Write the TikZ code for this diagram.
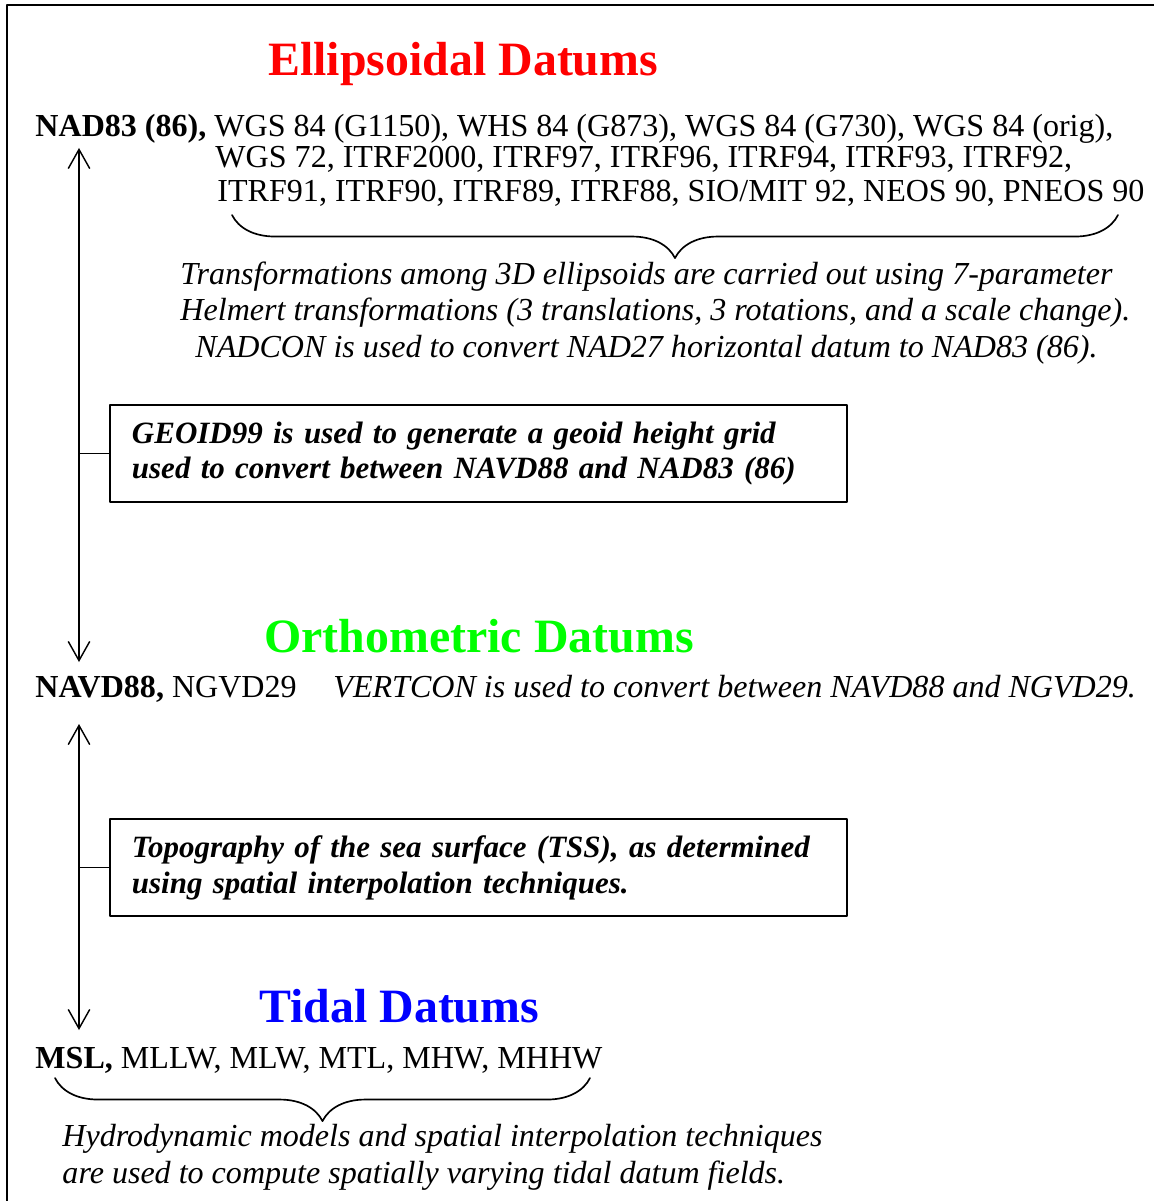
\documentclass[tikz,border=0pt]{standalone}
\usepackage{fontspec}
\setmainfont{Liberation Serif}
\usepackage{tikz}
\usetikzlibrary{arrows.meta,decorations.pathreplacing}
\definecolor{EllipColor}{RGB}{255,0,0}
\definecolor{OrthoColor}{RGB}{0,255,0}
\definecolor{TidalColor}{RGB}{0,0,255}
\tikzset{
  datumtitle/.style={anchor=base west,inner sep=0pt,font=\fontsize{20}{24}\selectfont\bfseries},
  txt/.style={anchor=base west,inner sep=0pt,font=\fontsize{13.4}{14}\selectfont},
  note/.style={txt,font=\fontsize{13.4}{14}\selectfont\itshape},
  infobox/.style={draw,line width=0.8pt,align=left,inner xsep=9.2pt,text width=289.7pt,minimum height=40.5pt,font=\fontsize{12.95}{15}\selectfont\bfseries\itshape},
  curly/.style={decorate,decoration={brace,mirror,amplitude=18pt},line width=0.7pt},
}

\begin{document}
\begin{tikzpicture}[line cap=round,line join=round,>={Straight Barb[length=8pt,width=9pt]},x=0.418pt,y=-0.418pt]
  \useasboundingbox (0,0) rectangle (1154,1201);
  \draw[line width=1pt,line cap=butt] (7,1201) -- (7,5) -- (1154,5);
  % ellipsoidal
  \node[datumtitle,text=EllipColor] (ellip) at (268,76) {Ellipsoidal Datums};
  \node[txt] (nad1) at (35,137) {\textbf{NAD83 (86),} WGS 84 (G1150), WHS 84 (G873), WGS 84 (G730), WGS 84 (orig),};
  \node[txt] (nad2) at (215,168) {WGS 72, ITRF2000, ITRF97, ITRF96, ITRF94, ITRF93, ITRF92,};
  \node[txt] (nad3) at (217,202) {ITRF91, ITRF90, ITRF89, ITRF88, SIO/MIT 92, NEOS 90, PNEOS 90};
  \draw[curly] (232,215) -- (1118,215);
  \node[note] (helm1) at (180,284) {Transformations among 3D ellipsoids are carried out using 7-parameter};
  \node[note] (helm2) at (180,321) {Helmert transformations (3 translations, 3 rotations, and a scale change).};
  \node[note] (helm3) at (195,357) {NADCON is used to convert NAD27 horizontal datum to NAD83 (86).};
  \node[infobox] (geoid) at (478.5,453.5) {GEOID99 is used to generate a geoid height grid\\used to convert between NAVD88 and NAD83 (86)};
  % orthometric
  \node[datumtitle,text=OrthoColor] (ortho) at (264,652) {Orthometric Datums};
  \node[txt] (navd) at (35,697) {\textbf{NAVD88,} NGVD29};
  \node[note] (vertcon) at (333,697) {VERTCON is used to convert between NAVD88 and NGVD29.};
  \node[infobox] (tss) at (478.5,867.5) {Topography of the sea surface (TSS), as determined\\using spatial interpolation techniques.};
  % tidal
  \node[datumtitle,text=TidalColor] (tidal) at (259,1022) {Tidal Datums};
  \node[txt] (msl) at (35,1068) {\textbf{MSL,} MLLW, MLW, MTL, MHW, MHHW};
  \draw[curly] (55,1078) -- (590,1078);
  \node[note] (hydro1) at (62,1146) {Hydrodynamic models and spatial interpolation techniques};
  \node[note] (hydro2) at (62,1183) {are used to compute spatially varying tidal datum fields.};
  % connectors
  \coordinate (ellipTip) at (79,148);
  \coordinate (orthoTip) at (79,662);
  \coordinate (orthoTail) at (79,724);
  \coordinate (tidalTip) at (79,1030);
  \draw[<->,line width=0.6pt] (ellipTip) -- (orthoTip);
  \draw[line width=0.6pt] (geoid.west) -- (geoid.west -| ellipTip);
  \draw[<->,line width=0.6pt] (orthoTail) -- (tidalTip);
  \draw[line width=0.6pt] (tss.west) -- (tss.west -| orthoTail);
\end{tikzpicture}
\end{document}
